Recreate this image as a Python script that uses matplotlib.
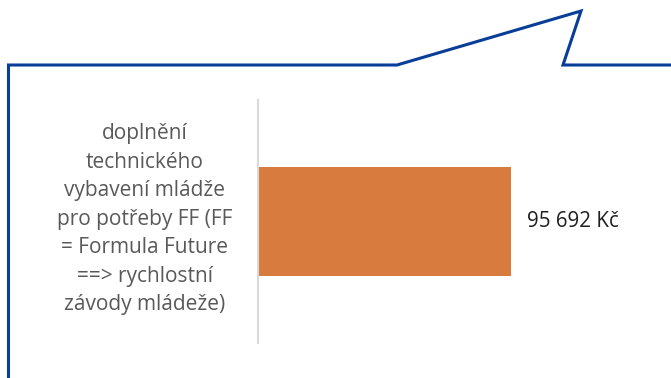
import matplotlib
matplotlib.use("Agg")
import matplotlib.pyplot as plt
import matplotlib.transforms as mtransforms

# data
categories = ["doplnění\ntechnického\nvybavení mládže\npro potřeby FF (FF\n= Formula Future\n==> rychlostní\nzávody mládeže)"]
values = [95692]
currency = "Kč"

W, H = 671, 378
fig = plt.figure(figsize=(W / 100, H / 100), dpi=100)

# callout bubble drawn in pixel coordinates on a background axes
bg = fig.add_axes([0, 0, 1, 1])
bg.set_xlim(0, W)
bg.set_ylim(H, 0)
bg.axis("off")
bubble_x = [8.5, 8.5, 397, 581, 563, W + 5]
bubble_y = [H + 5, 65, 65, 11, 65, 65]
bg.plot(bubble_x, bubble_y, color="#083D98", lw=2.2, solid_joinstyle="miter", clip_on=False)

# bar chart
left, right, top, bottom = 258, 650, 100, 343
ax = fig.add_axes([left / W, 1 - bottom / H, (right - left) / W, (bottom - top) / H])
ax.barh(range(len(values)), values, height=0.45, color="#D77B3F")
ax.set_ylim(-0.5, 0.5)
ax.set_xlim(0, 148265)

for s in ["top", "right", "bottom"]:
    ax.spines[s].set_visible(False)
ax.spines["left"].set_color("#D9D9D9")
ax.spines["left"].set_linewidth(1.5)
ax.set_xticks([])
ax.set_yticks(range(len(categories)))
ax.set_yticklabels(categories, ha="center", multialignment="center",
                   color="#595959", fontsize=15, family="Open Sans", linespacing=1.47)
ax.tick_params(axis="y", length=0, pad=81.4)
shift = mtransforms.ScaledTranslation(0, 6 / 72, fig.dpi_scale_trans)
for t in ax.get_yticklabels():
    t.set_transform(t.get_transform() + shift)

for i, v in enumerate(values):
    lbl = f"{v:,} {currency}".replace(",", " ")
    ax.annotate(lbl, (v, i), xytext=(11.5, 0), textcoords="offset points",
                va="center", ha="left", fontsize=14.8, family="Open Sans", color="#1F1F1F")

fig.savefig("out.png", dpi=100)
